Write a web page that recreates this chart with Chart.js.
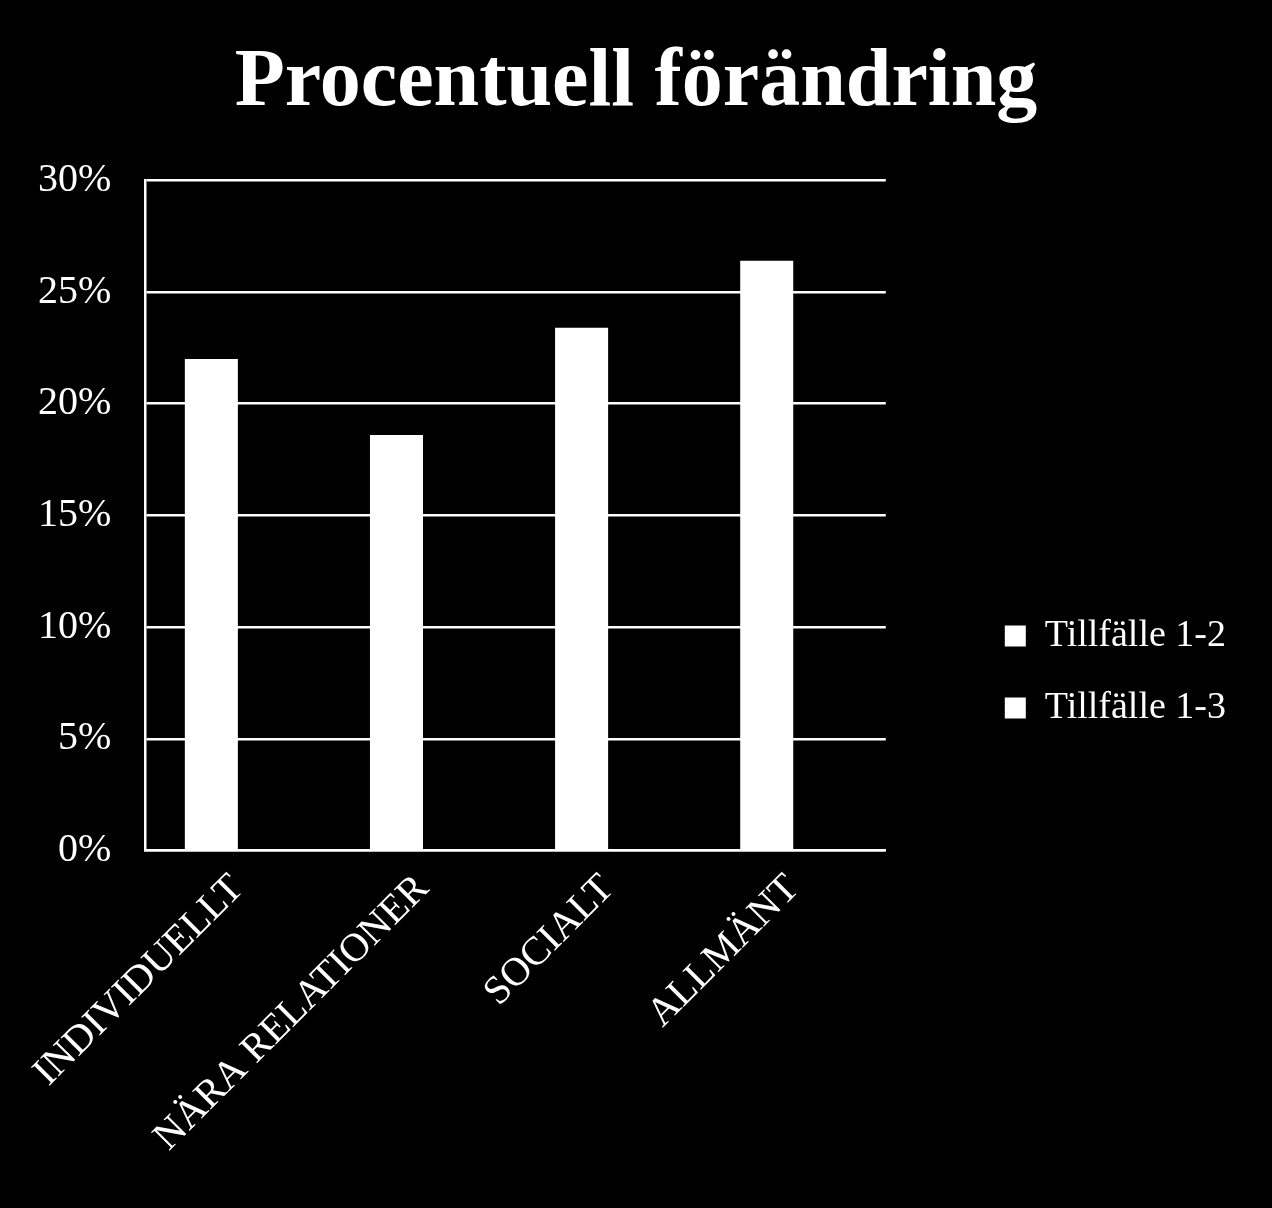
<!DOCTYPE html>
<html>
<head>
<meta charset="utf-8">
<script src="https://cdn.jsdelivr.net/npm/chart.js@4/dist/chart.umd.min.js"></script>
<style>
  html, body { margin: 0; padding: 0; background: #000; }
  .wrap { width: 1272px; height: 1208px; position: relative; }
</style>
</head>
<body>
<div class="wrap"><canvas id="chart"></canvas></div>
<script>
const categories = ['INDIVIDUELLT', 'NÄRA RELATIONER', 'SOCIALT', 'ALLMÄNT'];
const seriesNames = ['Tillfälle 1-2', 'Tillfälle 1-3'];
const tillfalle12 = [22.0, 18.6, 23.4, 26.4];
const tillfalle13 = [null, null, null, null];
const yTicks = [0, 5, 10, 15, 20, 25, 30];

const serif = "'Liberation Serif', 'DejaVu Serif', serif";

// legend sits further right (and lower) than chart.js would put it,
// title is centred on the whole canvas
const legendGap = 85;
const legendDrop = 88;
const layoutTweaks = {
  id: 'layoutTweaks',
  afterLayout(chart) {
    const lg = chart.legend;
    lg.left += legendGap;
    lg.right += legendGap;
    lg.top += legendDrop;
    lg.bottom += legendDrop;
    chart.titleBlock.left = 0;
    chart.titleBlock.right = chart.width;
  }
};

new Chart(document.getElementById('chart'), {
  type: 'bar',
  data: {
    labels: categories,
    datasets: [
      { label: seriesNames[0], data: tillfalle12, backgroundColor: '#ffffff', borderWidth: 0 },
      { label: seriesNames[1], data: tillfalle13, backgroundColor: '#ffffff', borderWidth: 0 }
    ]
  },
  plugins: [layoutTweaks],
  options: {
    responsive: true,
    maintainAspectRatio: false,
    animation: false,
    layout: { padding: { left: 4, right: 36 + legendGap, bottom: 40 } },
    datasets: { bar: { categoryPercentage: 0.573, barPercentage: 1 } },
    plugins: {
      title: {
        display: true,
        text: 'Procentuell förändring',
        color: '#ffffff',
        font: { family: serif, size: 82, weight: 'bold' },
        padding: { top: 35, bottom: 47 }
      },
      legend: {
        position: 'right',
        labels: {
          color: '#ffffff',
          font: { family: serif, size: 38 },
          boxWidth: 21,
          boxHeight: 21,
          padding: 34
        }
      },
      tooltip: { enabled: false }
    },
    scales: {
      x: {
        grid: { display: false },
        border: { display: true, color: '#ffffff', width: 2.5 },
        ticks: {
          color: '#ffffff',
          font: { family: serif, size: 40 },
          maxRotation: 45,
          minRotation: 45,
          padding: 7
        }
      },
      y: {
        min: 0,
        max: 30,
        afterBuildTicks: (scale) => { scale.ticks = yTicks.map(v => ({ value: v })); },
        grid: { color: '#ffffff', lineWidth: 2.5, drawTicks: false },
        border: { display: true, color: '#ffffff', width: 2.5 },
        ticks: {
          color: '#ffffff',
          font: { family: serif, size: 40 },
          padding: 34,
          callback: (v) => v + '%'
        }
      }
    }
  }
});
</script>
</body>
</html>
